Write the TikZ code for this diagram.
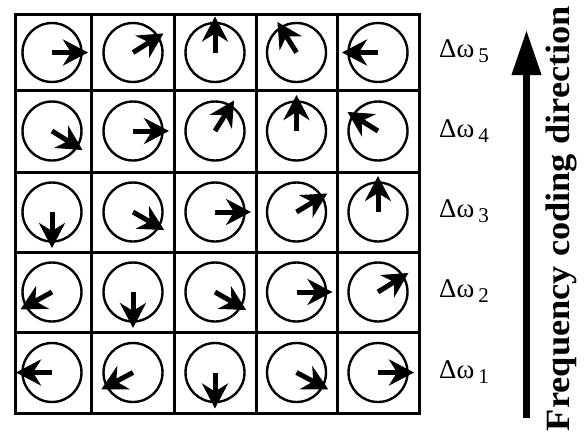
\documentclass[tikz,border=0pt]{standalone}
\usepackage{fontspec}
\setmainfont{Liberation Serif}
\usepackage{graphicx}
\usetikzlibrary{arrows.meta}
\begin{document}
\begin{tikzpicture}[x=1pt,y=-1pt,
  gridline/.style={line width=3pt,line cap=rect},
  phasecircle/.style={line width=2.4pt},
  spin/.style={line width=5pt,-{Stealth[length=25pt,width=26pt,inset=8pt]}},
  bigarrow/.style={line width=7pt,-{Triangle[length=45pt,width=28pt]}},
  freqlabel/.style={anchor=base west,inner sep=0pt,font=\fontsize{27}{27}\selectfont}]
\useasboundingbox (0,0) rectangle (585,436);
% grid
\foreach \x in {15,91,174,256,337,419} \draw[gridline] (\x,15) -- (\x,413);
\foreach \y in {15,90,172,252,332,413} \draw[gridline] (15,\y) -- (419,\y);
% phase circles and magnetisation arrows
\foreach \cx/\cy/\a in {
  52/52.5/0, 133/52.5/32, 215/52.5/90, 296.5/52.5/122, 378/52.5/180,
  52/131/-32, 133/131/0, 215/131/58, 296.5/131/90, 378/131/148,
  52/212/-90, 133/212/-30, 215/212/0, 296.5/212/31, 378/212/90,
  52/292/-151, 133/292/-90, 215/292/-30, 296.5/292/0, 378/292/32,
  52/372.5/180, 133/372.5/-152, 215/372.5/-90, 296.5/372.5/-28, 378/372.5/0} {
  \draw[phasecircle] (\cx,\cy) circle[radius=29.5pt];
  \draw[spin] (\cx,\cy) -- ++(-\a:36);
}
% frequency labels
\node[freqlabel] (w5) at (439,57) {Δω\hspace{4pt}\raisebox{-5pt}{\fontsize{21}{21}\selectfont 5}};
\node[freqlabel] (w4) at (439,137) {Δω\hspace{4pt}\raisebox{-5pt}{\fontsize{21}{21}\selectfont 4}};
\node[freqlabel] (w3) at (439,217.5) {Δω\hspace{4pt}\raisebox{-5pt}{\fontsize{21}{21}\selectfont 3}};
\node[freqlabel] (w2) at (439,297.5) {Δω\hspace{4pt}\raisebox{-5pt}{\fontsize{21}{21}\selectfont 2}};
\node[freqlabel] (w1) at (439,378) {Δω\hspace{4pt}\raisebox{-5pt}{\fontsize{21}{21}\selectfont 1}};
% frequency coding direction arrow
\coordinate (abot) at (526.5,418);
\coordinate (atop) at (526.5,30);
\draw[bigarrow] (abot) -- (atop);
\node[rotate=90,anchor=base,inner sep=0pt,font=\bfseries\fontsize{34}{34}\selectfont] (title) at (569,218.5) {\scalebox{1.07}[1]{Frequency coding direction}};
\end{tikzpicture}
\end{document}
